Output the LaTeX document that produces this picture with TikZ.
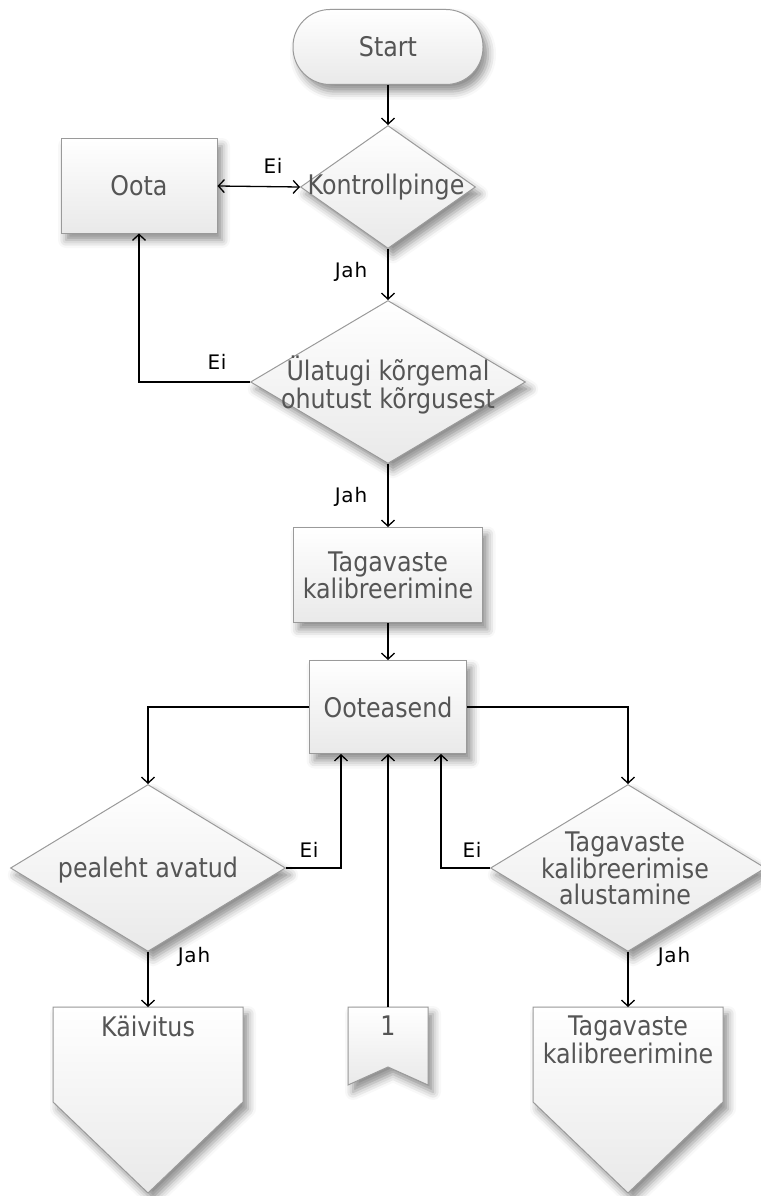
\documentclass[tikz,border=0pt]{standalone}
\usepackage{fontspec}
\setmainfont{DejaVu Sans}[FakeStretch=0.88]
\newfontfamily\lblfont{DejaVu Sans}[LetterSpace=4]
\usetikzlibrary{arrows.meta,shapes.geometric,shadows.blur,calc}

\definecolor{edge}{HTML}{9A9A9A}
\definecolor{ink}{HTML}{555555}
\definecolor{fillbot}{HTML}{E9E9E9}

\begin{document}
\begin{tikzpicture}[x=1pt,y=-1pt,
  box/.style={draw=edge, line width=1pt, top color=white, bottom color=fillbot,
    blur shadow={shadow xshift=5pt, shadow yshift=-7pt, shadow blur radius=8pt, shadow opacity=45}},
  txt/.style={text=ink, font=\fontsize{27}{26}\selectfont, align=center},
  lbl/.style={text=black, font=\lblfont\fontsize{20}{22}\selectfont},
  flow/.style={draw=black, line width=1.3pt, -{Straight Barb[length=6pt,width=13pt]}},
  twoway/.style={draw=black, line width=1.3pt, {Straight Barb[length=6pt,width=13pt]}-{Straight Barb[length=6pt,width=13pt]}},
  rhomb/.style={box, diamond, inner sep=0pt},
]
\useasboundingbox (0,0) rectangle (760,1196);

% process boxes and decisions
\node[box, rounded corners=37pt, minimum width=190pt, minimum height=75pt, txt] (start) at (388,47) {Start};
\node[rhomb, minimum width=175pt, minimum height=123pt] (kontroll) at (388,187) {};
\node[txt] (kontrolltxt) at (386,187) {Kontrollpinge};
\node[box, minimum width=156pt, minimum height=94pt, txt] (oota) at (139,186) {Oota};
\node[rhomb, minimum width=275pt, minimum height=163pt] (ulatugi) at (388,382) {};
\node[txt] (ulatugitxt) at (388,385) {Ülatugi kõrgemal\\ohutust kõrgusest};
\node[box, minimum width=189pt, minimum height=95pt, txt] (tag1) at (388,575) {Tagavaste\\kalibreerimine};
\node[box, minimum width=157pt, minimum height=93pt, txt] (oote) at (388,707) {Ooteasend};
\node[rhomb, minimum width=275pt, minimum height=167pt] (pealeht) at (148,868) {};
\node[txt] (pealehttxt) at (148,870) {pealeht avatud};
\node[rhomb, minimum width=275pt, minimum height=167pt] (alust) at (628,868) {};
\node[txt] (alusttxt) at (625,868) {Tagavaste\\kalibreerimise\\alustamine};

% off-page shapes
\draw[box] (53,1007) -- (243,1007) -- (243,1102) -- (148,1193) -- (53,1102) -- cycle;
\node[txt, anchor=north, inner sep=9pt] (kaiv) at (148,1007) {Käivitus};
\draw[box] (533,1007) -- (723,1007) -- (723,1102) -- (628,1193) -- (533,1102) -- cycle;
\node[txt, anchor=north, inner sep=9pt] (tag2) at (628,1007) {Tagavaste\\kalibreerimine};
\draw[box] (348,1007) -- (428,1007) -- (428,1085) -- (388,1067) -- (348,1085) -- cycle;
\node[txt, anchor=north, inner sep=9pt] (conn1) at (388,1007) {1};

% connectors
\draw[flow] (start.south) -- (kontroll.north);
\draw[twoway] (oota.east) -- (kontroll.west);
\draw[flow] (kontroll.south) -- (ulatugi.north);
\draw[flow] (ulatugi.west) -| (oota.south);
\draw[flow] (ulatugi.south) -- (tag1.north);
\draw[flow] (tag1.south) -- (oote.north);
\draw[flow] (oote.west) -| (pealeht.north);
\draw[flow] (oote.east) -| (alust.north);
\draw[flow] (pealeht.east) -| ($(oote.south)+(-47,0)$);
\draw[flow] (alust.west) -| ($(oote.south)+(53,0)$);
\draw[flow] (conn1.north) -- (oote.south);
\draw[flow] (pealeht.south) -- (kaiv.north);
\draw[flow] (alust.south) -- (tag2.north);

% branch labels
\node[lbl] (ei1) at (273,166) {Ei};
\node[lbl] (jah1) at (351,272) {Jah};
\node[lbl] (ei2) at (217,362) {Ei};
\node[lbl] (jah2) at (351,497) {Jah};
\node[lbl] (ei3) at (309,850) {Ei};
\node[lbl] (jah3) at (194,957) {Jah};
\node[lbl] (ei4) at (472,850) {Ei};
\node[lbl] (jah4) at (674,957) {Jah};
\end{tikzpicture}
\end{document}
